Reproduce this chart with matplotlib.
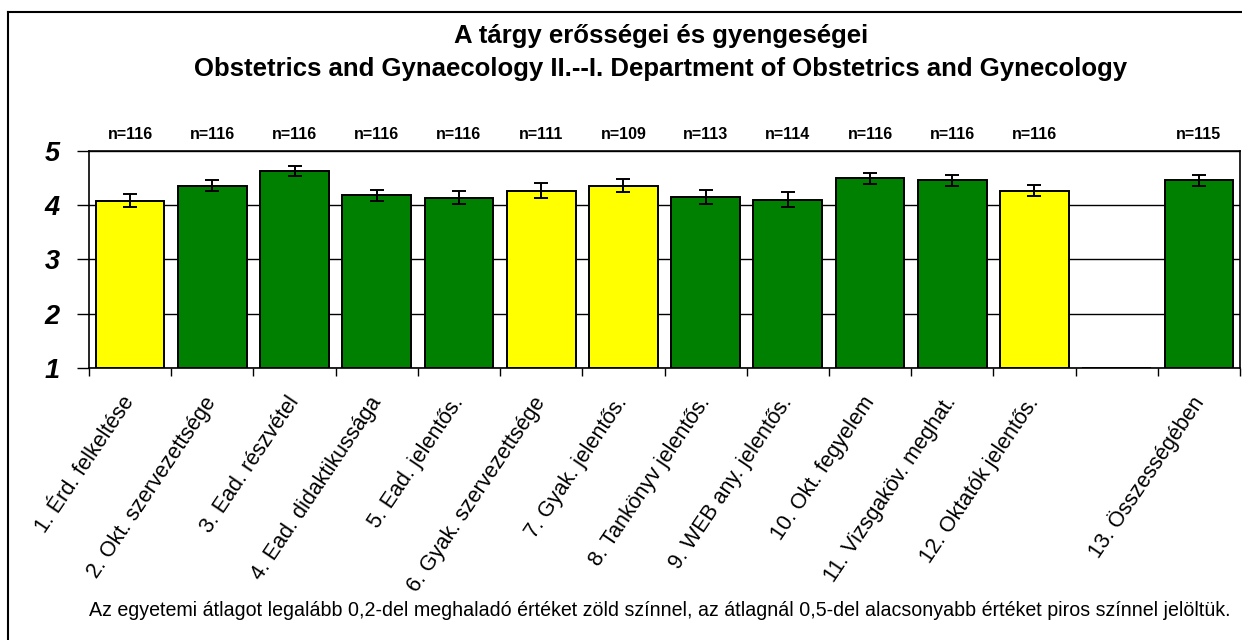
import matplotlib

matplotlib.use("Agg")
import matplotlib.pyplot as plt
import numpy as np
from matplotlib.lines import Line2D

plt.rcParams["font.family"] = ["Liberation Sans", "DejaVu Sans"]

categories = [
    "1. Érd. felkeltése",
    "2. Okt. szervezettsége",
    "3. Ead. részvétel",
    "4. Ead. didaktikussága",
    "5. Ead. jelentős.",
    "6. Gyak. szervezettsége",
    "7. Gyak. jelentős.",
    "8. Tankönyv jelentős.",
    "9. WEB any. jelentős.",
    "10. Okt. fegyelem",
    "11. Vizsgaköv. meghat.",
    "12. Oktatók jelentős.",
    "",
    "13. Összességében",
]
means = [4.08, 4.36, 4.63, 4.18, 4.14, 4.27, 4.36, 4.15, 4.10, 4.50, 4.46, 4.27, np.nan, 4.46]
errors = [0.12, 0.10, 0.09, 0.10, 0.12, 0.14, 0.12, 0.13, 0.14, 0.10, 0.10, 0.10, np.nan, 0.10]
counts = ["n=116", "n=116", "n=116", "n=116", "n=116", "n=111", "n=109", "n=113", "n=114",
          "n=116", "n=116", "n=116", "", "n=115"]
status = ["yellow", "green", "green", "green", "green", "yellow", "yellow", "green", "green",
          "green", "green", "yellow", "", "green"]

title_lines = [
    "A tárgy erősségei és gyengeségei",
    "Obstetrics and Gynaecology II.--I. Department of Obstetrics and Gynecology",
]
footnote = ("Az egyetemi átlagot legalább 0,2-del meghaladó értéket zöld színnel, "
            "az átlagnál 0,5-del alacsonyabb értéket piros színnel jelöltük.")

COLORS = {"yellow": "#FFFF00", "green": "#008000", "": "none"}

W, H = 1242, 640
fig = plt.figure(figsize=(W / 100, H / 100), dpi=100)
ax = fig.add_axes([89 / W, 1 - 368 / H, (1240 - 89) / W, (368 - 151) / H])

x = np.arange(len(categories))
vals = np.nan_to_num(np.array(means, dtype=float), nan=1.0)
ax.bar(x, vals - 1.0, bottom=1.0, width=0.835,
       color=[COLORS[s] for s in status], edgecolor="black", linewidth=1.4, zorder=3)
ax.errorbar(x, means, yerr=errors, fmt="none", ecolor="black", elinewidth=1.4,
            capsize=5, capthick=1.4, zorder=4)

for xi, label in zip(x, counts):
    if label:
        ax.text(xi, 1.078, label, transform=ax.get_xaxis_transform(),
                ha="center", va="center", fontsize=11.5, fontweight="bold")

ax.set_xlim(-0.5, len(categories) - 0.5)
ax.set_ylim(1, 5)
ax.set_yticks([1, 2, 3, 4, 5])
ax.set_yticklabels(["1", "2", "3", "4", "5"], fontsize=19.5, fontweight="bold", style="italic")
ax.tick_params(axis="y", length=9, width=1, pad=12, direction="out")
ax.grid(axis="y", color="black", linewidth=1, zorder=0)

ax.set_xticks(x)
ax.set_xticklabels(categories, rotation=56, ha="right", va="center",
                   rotation_mode="anchor", fontsize=15.5)
ax.tick_params(axis="x", which="major", length=0, pad=22)
ax.set_xticks(np.arange(len(categories) + 1) - 0.5, minor=True)
ax.tick_params(axis="x", which="minor", length=6, width=1, direction="out")

for sp in ax.spines.values():
    sp.set_linewidth(1.2)

fig.text(661 / W, 1 - 36 / H, title_lines[0], ha="center", va="center",
         fontsize=18.5, fontweight="bold")
fig.text(661 / W, 1 - 69 / H, title_lines[1], ha="center", va="center",
         fontsize=18.5, fontweight="bold")
fig.text(660 / W, 1 - 610 / H, footnote, ha="center", va="center", fontsize=14.1)

# outer chart border (right and bottom edges fall outside the picture)
fig.add_artist(Line2D([8 / W, 8 / W], [0, 1 - 12 / H], color="black", linewidth=1.5,
                      transform=fig.transFigure))
fig.add_artist(Line2D([8 / W, 1], [1 - 12 / H, 1 - 12 / H], color="black", linewidth=1.5,
                      transform=fig.transFigure))

fig.savefig("out.png", dpi=100)
plt.close(fig)
